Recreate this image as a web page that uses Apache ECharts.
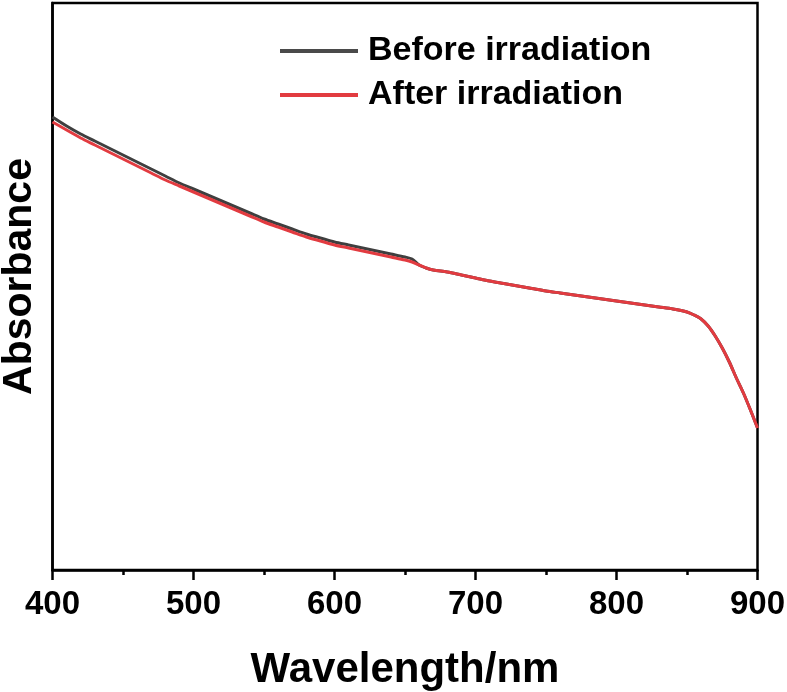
<!DOCTYPE html>
<html>
<head>
<meta charset="utf-8">
<title>Absorbance</title>
<script src="https://cdn.jsdelivr.net/npm/echarts@6/dist/echarts.min.js"></script>
<style>
  html, body { margin: 0; padding: 0; background: #fff; }
  #chart { width: 787px; height: 692px; }
</style>
</head>
<body>
<div id="chart"></div>
<script>
// 波长 (nm)
const wavelengths = [
  400, 410, 420, 430, 440, 450, 460, 470, 480, 490, 500, 510, 520, 530, 540,
  550, 560, 570, 580, 590, 600, 610, 620, 630, 640, 650, 655, 660, 665, 670,
  680, 690, 700, 710, 720, 730, 740, 750, 760, 770, 780, 790, 800, 810, 820,
  830, 840, 850, 855, 860, 865, 870, 875, 880, 885, 890, 895, 900
];
// 照射前
const beforeValues = [
  4.53, 4.44, 4.36, 4.29, 4.22, 4.15, 4.08, 4.01, 3.94, 3.87, 3.81, 3.75, 3.69, 3.63, 3.57,
  3.51, 3.46, 3.41, 3.36, 3.32, 3.28, 3.25, 3.22, 3.19, 3.16, 3.13, 3.11, 3.05, 3.02, 3.00,
  2.98, 2.95, 2.92, 2.89, 2.865, 2.84, 2.815, 2.79, 2.77, 2.75, 2.73, 2.71, 2.69, 2.67, 2.65,
  2.63, 2.61, 2.58, 2.55, 2.51, 2.44, 2.34, 2.22, 2.08, 1.92, 1.77, 1.60, 1.42
];
// 照射后
const afterValues = [
  4.48, 4.40, 4.32, 4.25, 4.18, 4.11, 4.04, 3.97, 3.90, 3.84, 3.78, 3.72, 3.66, 3.60, 3.54,
  3.48, 3.43, 3.38, 3.33, 3.29, 3.25, 3.22, 3.19, 3.16, 3.13, 3.10, 3.08, 3.05, 3.02, 3.00,
  2.98, 2.95, 2.92, 2.89, 2.865, 2.84, 2.815, 2.79, 2.77, 2.75, 2.73, 2.71, 2.69, 2.67, 2.65,
  2.63, 2.61, 2.58, 2.55, 2.51, 2.44, 2.34, 2.22, 2.08, 1.92, 1.77, 1.60, 1.42
];
const seriesNames = ["Before irradiation", "After irradiation"];
const xTicks = [400, 500, 600, 700, 800, 900];

const font = "Liberation Sans, Arial, sans-serif";
const chartInstance = echarts.init(document.getElementById("chart"));

const toPairs = (ys) => wavelengths.map((x, i) => [x, ys[i]]);

const option = {
  animation: false,
  backgroundColor: "#fff",
  grid: {
    left: 52.5,
    right: 29.5,
    top: 3,
    bottom: 122,
    outerBoundsMode: "none", // 不让标签挤压绘图区
    containLabel: false,
    show: true,
    borderColor: "#000",
    borderWidth: 2.5,
  },
  legend: {
    orient: "vertical",
    left: 275,
    top: 29,
    itemWidth: 78,
    itemHeight: 4,
    itemGap: 10,
    icon: "rect",
    textStyle: {
      fontFamily: font,
      fontWeight: "bold",
      fontSize: 34,
      color: "#000",
      padding: [0, 0, 0, 5],
    },
    data: seriesNames,
  },
  xAxis: {
    type: "value",
    min: xTicks[0],
    max: xTicks[xTicks.length - 1],
    interval: 100,
    name: "Wavelength/nm",
    nameLocation: "middle",
    nameGap: 79,
    nameTextStyle: {
      fontFamily: font,
      fontWeight: "bold",
      fontSize: 42,
      color: "#000",
    },
    axisLine: { lineStyle: { color: "#000", width: 2.5 } },
    axisTick: { show: true, inside: false, length: 10, lineStyle: { color: "#000", width: 2.5 } },
    minorTick: { show: true, splitNumber: 2, length: 5, lineStyle: { color: "#000", width: 2.5 } },
    axisLabel: {
      margin: 18,
      fontFamily: font,
      fontWeight: "bold",
      fontSize: 33,
      color: "#000",
    },
    splitLine: { show: false },
  },
  yAxis: {
    type: "value",
    min: 0,
    max: 5.67,
    name: "Absorbance",
    nameLocation: "middle",
    nameGap: 12,
    nameTextStyle: {
      fontFamily: font,
      fontWeight: "bold",
      fontSize: 41,
      color: "#000",
      padding: [0, 0, 0, 20],
    },
    axisLine: { show: true, lineStyle: { color: "#000", width: 2.5 } },
    axisTick: { show: false },
    axisLabel: { show: false },
    splitLine: { show: false },
  },
  series: [
    {
      name: seriesNames[0],
      type: "line",
      showSymbol: false,
      smooth: 0.3,
      data: toPairs(beforeValues),
      lineStyle: { color: "#3f3f3f", width: 3 },
      itemStyle: { color: "#4a4a4a" },
      z: 2,
    },
    {
      name: seriesNames[1],
      type: "line",
      showSymbol: false,
      smooth: 0.3,
      data: toPairs(afterValues),
      lineStyle: { color: "#e23b40", width: 3 },
      itemStyle: { color: "#e23b40" },
      z: 3,
    },
  ],
};
chartInstance.setOption(option);
</script>
</body>
</html>
